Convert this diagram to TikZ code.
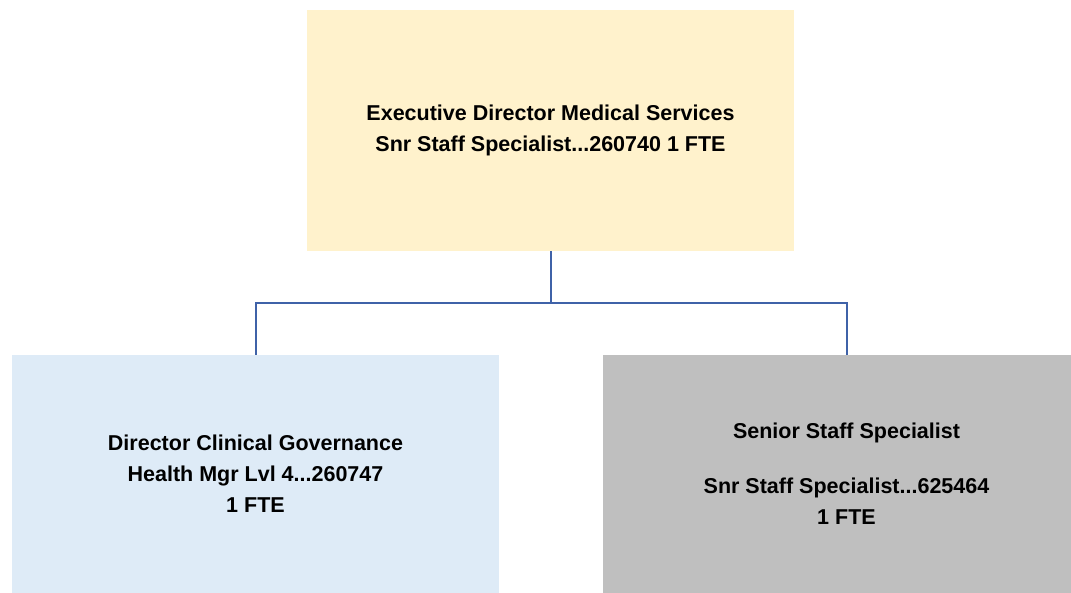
\documentclass[tikz,border=0pt]{standalone}
\usepackage{fontspec}
\setmainfont{Liberation Sans}
\usepackage{xcolor}
\definecolor{edmsfill}{HTML}{FFF2CC}
\definecolor{dcgfill}{HTML}{DEEBF7}
\definecolor{sssfill}{HTML}{BFBFBF}
\definecolor{linkblue}{HTML}{3F62A8}
\tikzset{
  posbox/.style  = {rectangle,minimum width=487pt,minimum height=238pt,
                    inner sep=0pt,align=center,
                    font=\fontsize{21.5}{31}\selectfont\bfseries},
  orgline/.style = {draw=linkblue,line width=2pt}
}

\begin{document}
\begin{tikzpicture}[x=1pt,y=-1pt]
  \useasboundingbox (0,0) rectangle (1071,593);
  \clip (0,0) rectangle (1071,593);
  \node[posbox,fill=edmsfill,minimum height=241pt] (edms) at (550.5,130.5)
    {Executive Director Medical Services\\Snr Staff Specialist...260740 1 FTE};
  \node[posbox,fill=dcgfill] (dcg) at (255.5,474)
    {Director Clinical Governance\\Health Mgr Lvl 4...260747\\1 FTE};
  \node[posbox,fill=sssfill] (sss) at (846.5,474)
    {Senior Staff Specialist\\[24pt]Snr Staff Specialist...625464\\1 FTE};
  % reporting lines
  \draw[orgline] (edms.south) -- ++(0,52) coordinate (hub) -| (dcg.north);
  \draw[orgline] (hub) -| (sss.north);
\end{tikzpicture}
\end{document}
